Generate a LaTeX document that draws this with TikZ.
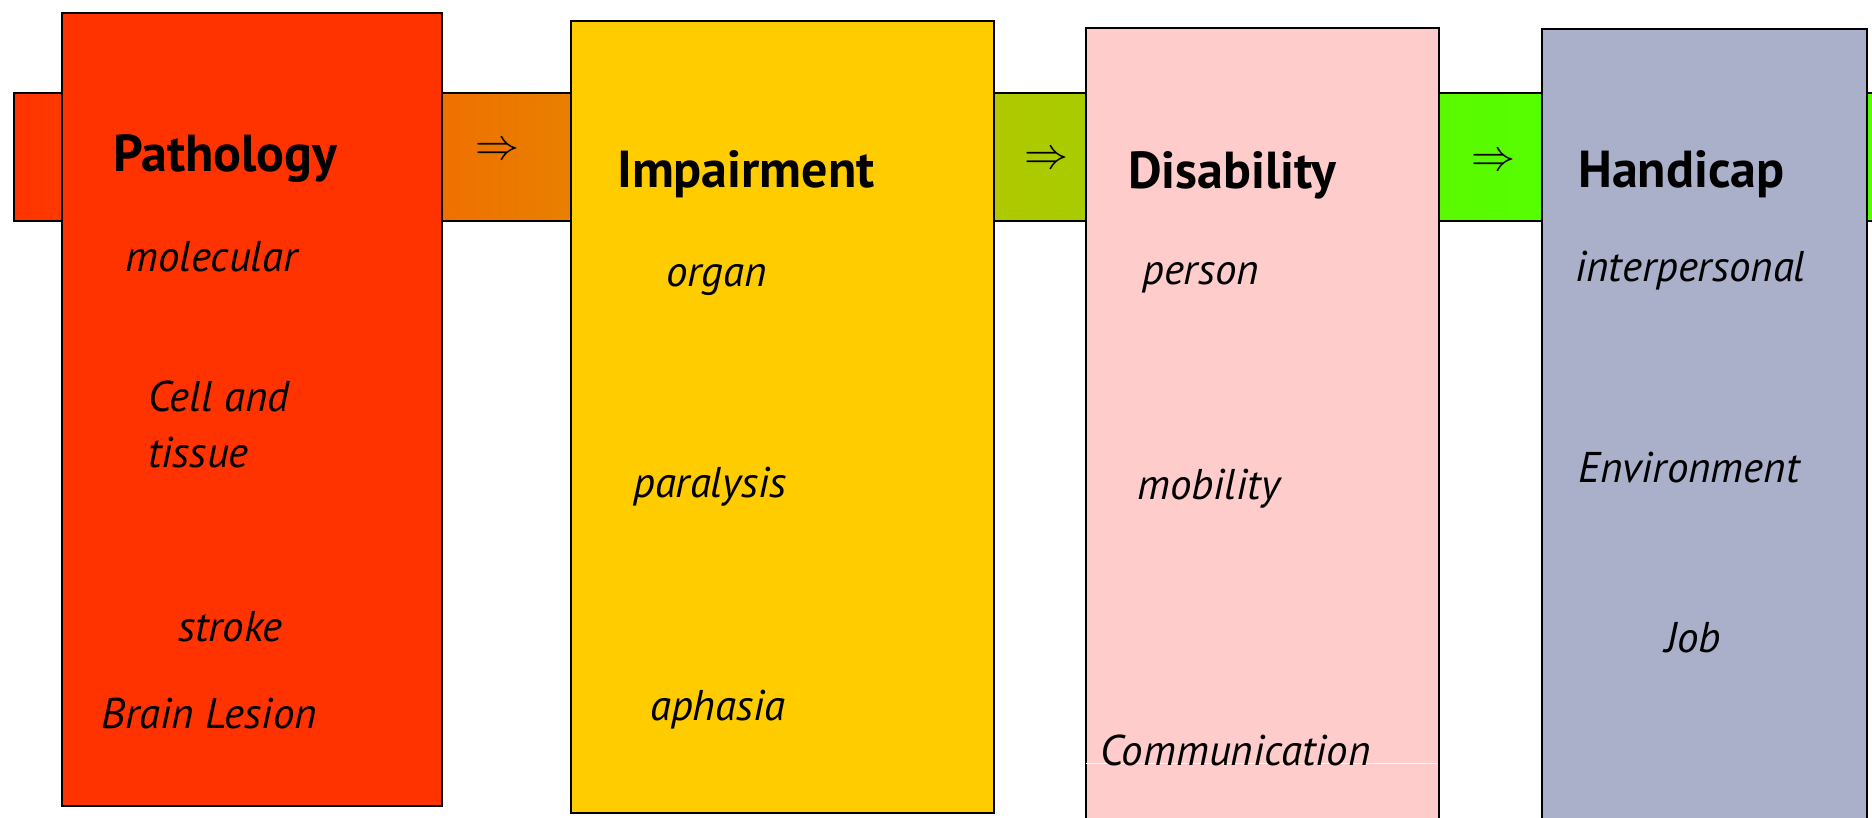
\documentclass[tikz,border=0pt]{standalone}
\usepackage{fix-cm}
\usepackage{fontspec}
\setmainfont{PT Sans}
\usetikzlibrary{positioning}

\definecolor{pathored}{HTML}{FF3300}
\definecolor{impyellow}{HTML}{FFCC00}
\definecolor{dispink}{HTML}{FFCCCC}
\definecolor{handgray}{HTML}{AAAFCA}
\definecolor{bandA}{HTML}{FF3300}
\definecolor{bandB}{HTML}{F07000}
\definecolor{bandC}{HTML}{E88000}
\definecolor{bandD}{HTML}{B0C800}
\definecolor{bandE}{HTML}{A8CC00}
\definecolor{bandF}{HTML}{5CF800}
\definecolor{bandG}{HTML}{55FF00}

\pgfdeclarehorizontalshading{bandshade}{100bp}{color(0bp)=(bandA); color(25bp)=(bandA); color(36.3bp)=(bandB); color(39.8bp)=(bandC); color(50.9bp)=(bandD); color(53.4bp)=(bandE); color(62.8bp)=(bandF); color(65.5bp)=(bandG); color(100bp)=(bandG)}

\begin{document}
\begin{tikzpicture}[x=1pt, y=-1pt,
  stage/.style={draw=black, line width=1.6pt, anchor=north west, inner sep=0pt},
  head/.style={anchor=base west, inner sep=0pt, font=\fontsize{52}{58}\selectfont\bfseries},
  item/.style={anchor=base west, inner sep=0pt, font=\fontsize{43}{52}\selectfont\itshape},
  arr/.style={inner sep=0pt, font=\fontsize{44}{44}\selectfont}]

\useasboundingbox (0,0) rectangle (1872,818);

% -------------------------------------------------------
% 1. The band behind the stages
% -------------------------------------------------------
\node[stage, shading=bandshade, minimum width=1887pt, minimum height=128pt] (band) at (13,92) {};

% -------------------------------------------------------
% 2. The four stages
% -------------------------------------------------------
\node[stage, fill=pathored, minimum width=380pt, minimum height=793pt] (patho) at (61,12) {};
\node[stage, fill=impyellow, minimum width=423pt, minimum height=792pt] (impair) at (570,20) {};
\node[stage, fill=dispink, minimum width=353pt, minimum height=830pt] (disab) at (1085,27) {};
\node[stage, fill=handgray, minimum width=325pt, minimum height=830pt] (handi) at (1541,28) {};

\draw[white, line width=0.8pt] (1086,763) -- (1437,763);

% -------------------------------------------------------
% 3. Arrows in the band
% -------------------------------------------------------
\node[arr] (arrA) at (497,151) {$\Rightarrow$};
\node[arr] (arrB) at (1046,160) {$\Rightarrow$};
\node[arr] (arrC) at (1493,162) {$\Rightarrow$};

% -------------------------------------------------------
% 4. Headings and levels
% -------------------------------------------------------
% Pathology
\node[head] (pathoT) at (113,172) {Pathology};
\node[item] (molec) at (125,272) {molecular};
\node[item] (cell) at (148,411) {Cell and};
\node[item] (tissue) at (148,467) {tissue};
\node[item] (stroke) at (178,641) {stroke};
\node[item] (brain) at (101,728) {Brain Lesion};

% Impairment
\node[head] (impairT) at (617,188) {Impairment};
\node[item] (organ) at (666,287) {organ};
\node[item] (paral) at (633,497) {paralysis};
\node[item] (aphas) at (650,720) {aphasia};

% Disability
\node[head] (disabT) at (1128,189) {Disability};
\node[item] (person) at (1142,285) {person};
\node[item] (mobil) at (1137,499) {mobility};
\node[item] (commu) at (1100,765) {Communication};

% Handicap
\node[head] (handiT) at (1578,188) {Handicap};
\node[item] (inter) at (1575,282) {interpersonal};
\node[item] (envir) at (1578,482) {Environment};
\node[item] (job) at (1665,652) {Job};

\end{tikzpicture}
\end{document}
